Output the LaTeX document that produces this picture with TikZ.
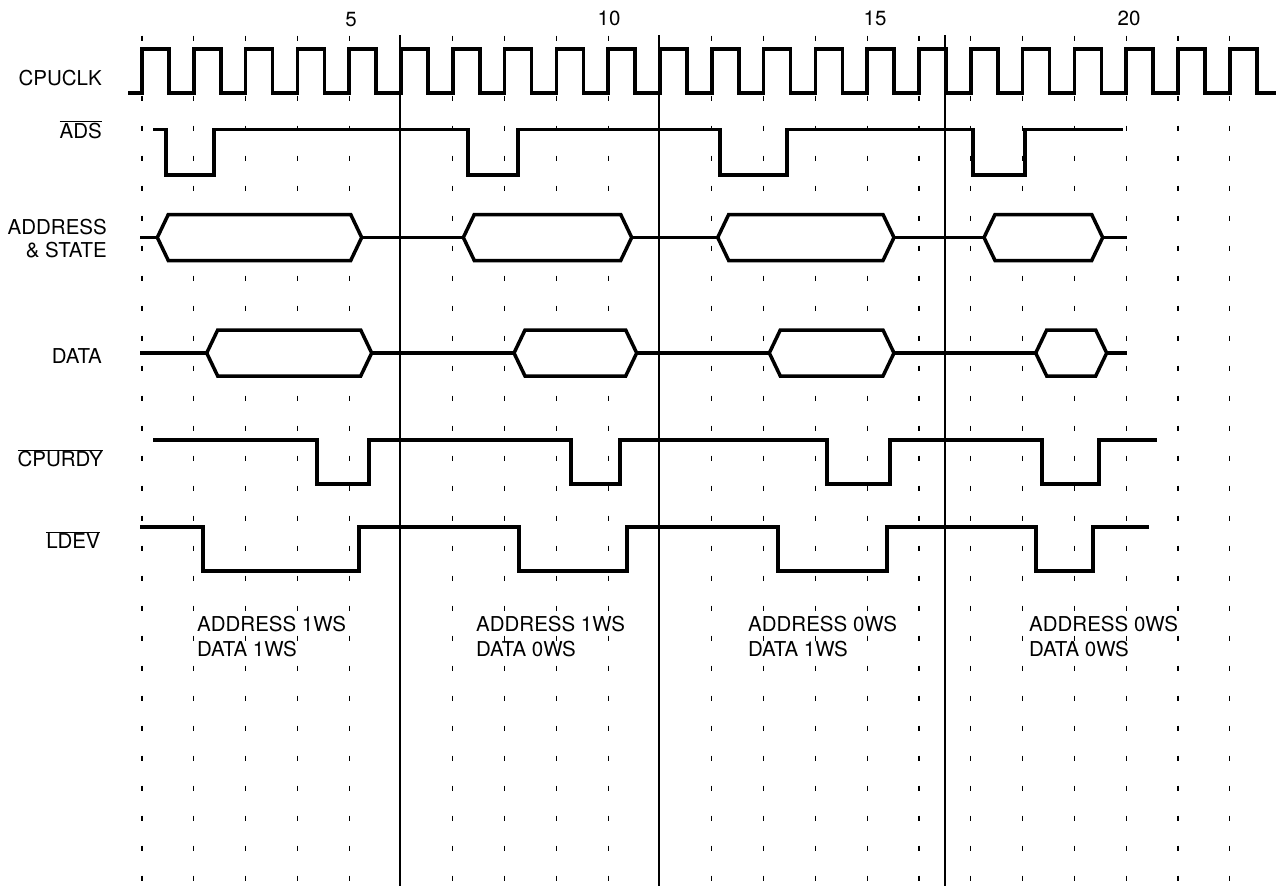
\documentclass[tikz,border=0pt]{standalone}
\usepackage{fontspec}
\setmainfont{TeX Gyre Heros}
\newcommand\olbar[1]{$\overline{\hbox{#1}}$}
\tikzset{
  sig/.style={line width=3.5pt, line join=miter, black},
  grid/.style={line width=1.2pt, dash pattern=on 5pt off 25pt, black},
  divider/.style={line width=1.3pt, black},
  lbl/.style={inner sep=0pt, font=\fontsize{20.5}{23.4}\selectfont},
  note/.style={inner sep=0pt, align=left, font=\fontsize{20.5}{25}\selectfont},
}
\begin{document}
\begin{tikzpicture}[x=1pt,y=-1pt]
\useasboundingbox[fill=white] (0,0) rectangle (1278,886);
% dashed grid on rising edges
\foreach \k in {0,...,21}{
  \ifnum\k=5\else\ifnum\k=10\else
    \draw[grid] ({142+51.8*\k},35.5) -- ({142+51.8*\k},886);
  \fi\fi
}
% solid dividers
\foreach \xx in {400,659,945}{
  \draw[divider] (\xx,35) -- (\xx,886);
}
% cycle numbers
\node[lbl,anchor=base] (n5) at (351,26) {5};
\node[lbl,anchor=base] (n10) at (609,25) {10};
\node[lbl,anchor=base] (n15) at (875,25) {15};
\node[lbl,anchor=base] (n20) at (1129,25) {20};
% signal names
\node[lbl,anchor=base east] (lclk) at (102,85) {CPUCLK};
\node[lbl,anchor=base east] (lads) at (102,138.3) {\olbar{ADS}};
\node[lbl,anchor=north east,align=right] (laddr) at (107,218.7) {ADDRESS\\\& STATE};
\node[lbl,anchor=base east] (ldata) at (102,363.3) {DATA};
\node[lbl,anchor=base east] (lrdy) at (103,466.7) {\olbar{CPURDY}};
\node[lbl,anchor=base east] (lldev) at (100,548.3) {\olbar{LDEV}};
% CPUCLK
\draw[sig] (128,93) foreach \k in {0,...,21}{
  -- ({142+51.8*\k},93) -- ({142+51.8*\k},49) -- ({169+51.8*\k},49) -- ({169+51.8*\k},93)
} -- (1276,93);
% ADS
\draw[sig] (153,129.5) -- (166,129.5) -- (166,175) -- (214,175) -- (214,129.5)
  -- (468,129.5) -- (468,175) -- (518,175) -- (518,129.5)
  -- (720,129.5) -- (720,175) -- (787,175) -- (787,129.5)
  -- (973,129.5) -- (973,175) -- (1025,175) -- (1025,129.5) -- (1123,129.5);
% ADDRESS & STATE bus
\draw[sig] (140,237.5) -- (1126.7,237.5);
\foreach \l/\r in {157.3/361.7, 463.3/631.7, 717.7/894, 984/1102.7}{
  \draw[sig,fill=white] (\l,237.5) -- ({\l+11},214.5) -- ({\r-11},214.5) -- (\r,237.5)
    -- ({\r-11},260.5) -- ({\l+11},260.5) -- cycle;
}
% DATA bus
\draw[sig] (140,353) -- (1126.7,353);
\foreach \l/\r in {206.7/371.7, 514/636.7, 769.3/894, 1035.7/1106.7}{
  \draw[sig,fill=white] (\l,353) -- ({\l+11},330) -- ({\r-11},330) -- (\r,353)
    -- ({\r-11},376) -- ({\l+11},376) -- cycle;
}
% CPURDY
\draw[sig] (153,440) -- (317,440) -- (317,484) -- (369,484) -- (369,440)
  -- (571,440) -- (571,484) -- (620,484) -- (620,440)
  -- (827,440) -- (827,484) -- (890,484) -- (890,440)
  -- (1042,440) -- (1042,484) -- (1099,484) -- (1099,440) -- (1157,440);
% LDEV
\draw[sig] (140,527) -- (203,527) -- (203,571) -- (359,571) -- (359,527)
  -- (519,527) -- (519,571) -- (627,571) -- (627,527)
  -- (778,527) -- (778,571) -- (887,571) -- (887,527)
  -- (1036,527) -- (1036,571) -- (1093,571) -- (1093,527) -- (1149,527);
% notes
\node[note,anchor=north west] (t1) at (197,615.5) {ADDRESS 1WS\\DATA 1WS};
\node[note,anchor=north west] (t2) at (476,615.5) {ADDRESS 1WS\\DATA 0WS};
\node[note,anchor=north west] (t3) at (748,615.5) {ADDRESS 0WS\\DATA 1WS};
\node[note,anchor=north west] (t4) at (1029,615.5) {ADDRESS 0WS\\DATA 0WS};
\end{tikzpicture}
\end{document}
